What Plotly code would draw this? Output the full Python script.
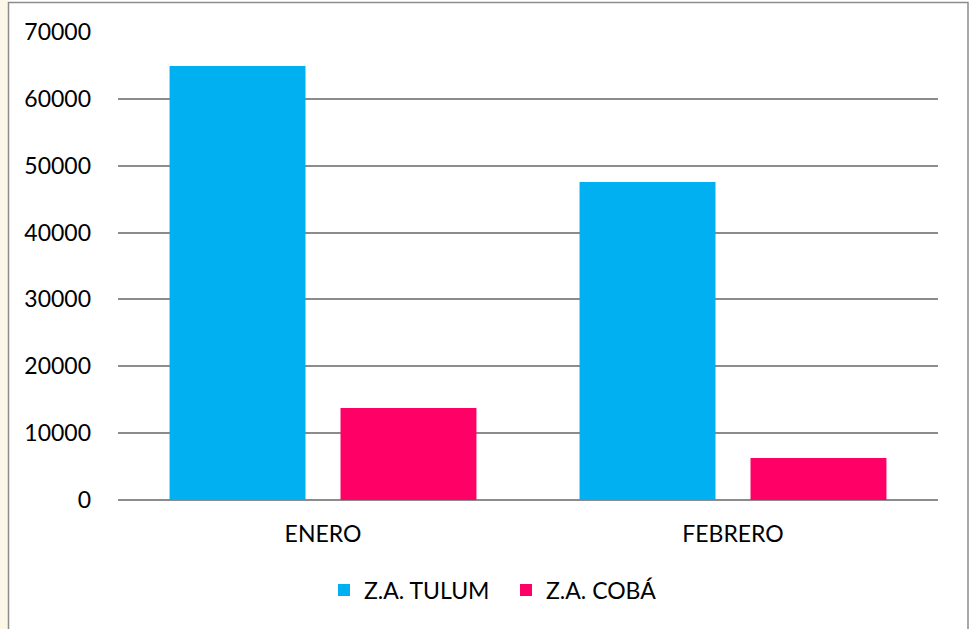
import plotly.graph_objects as go

categories = ["ENERO", "FEBRERO"]
tulum = [64900, 47550]
coba = [13750, 6300]
y_ticks = [0, 10000, 20000, 30000, 40000, 50000, 60000, 70000]
y_tick_labels = ["0", "10000", "20000", "30000", "40000", "50000", "60000", "70000"]

W, H = 974, 629
L, R, T, B = 118, 36, 32, 129
pw, ph = W - L - R, H - T - B

def px(x):
    return (x - L) / pw

def py(y):
    return (H - B - y) / ph

fig = go.Figure()
fig.add_trace(go.Bar(x=categories, y=tulum, name="Z.A. TULUM", marker_color="#00B0F0",
                     marker_line_width=0))
fig.add_trace(go.Bar(x=categories, y=coba, name="Z.A. COBÁ", marker_color="#FF0066",
                     marker_line_width=0))

# cream strip on the left
fig.add_shape(type="rect", xref="paper", yref="paper",
              x0=px(-20), x1=px(8.5), y0=py(700), y1=py(-20),
              fillcolor="#FDF7E8", line=dict(width=0), layer="below")
# chart frame
fig.add_shape(type="rect", xref="paper", yref="paper",
              x0=px(8.5), x1=px(968), y0=py(660), y1=py(2.5),
              fillcolor="white", line=dict(color="#8c8c8c", width=1.5), layer="below")

fig.update_layout(
    width=W, height=H,
    margin=dict(l=L, r=R, t=T, b=B),
    paper_bgcolor="white",
    plot_bgcolor="rgba(0,0,0,0)",
    font=dict(family="Lato, Open Sans, sans-serif", size=23, color="#000000"),
    barmode="group",
    bargap=0.166,
    bargroupgap=0.205,
    showlegend=True,
    legend=dict(orientation="h", x=px(324), xanchor="left", y=py(590), yanchor="middle",
                font=dict(size=23), itemwidth=30, entrywidth=137,
                bgcolor="rgba(0,0,0,0)"),
    xaxis=dict(showgrid=False, showline=False, ticks="", tickfont=dict(size=23),
               ticklabelstandoff=18),
    yaxis=dict(range=[0, 70000], tickvals=y_ticks, ticktext=y_tick_labels,
               showgrid=True, gridcolor="#8c8c8c",
               gridwidth=1.5, zeroline=True, zerolinecolor="#8c8c8c", zerolinewidth=1.5,
               showline=False, ticks="", tickfont=dict(size=23), ticklabelstandoff=26),
)

fig.write_html("out.html", config={"displayModeBar": False},
               post_script="document.body.style.margin='0';")
